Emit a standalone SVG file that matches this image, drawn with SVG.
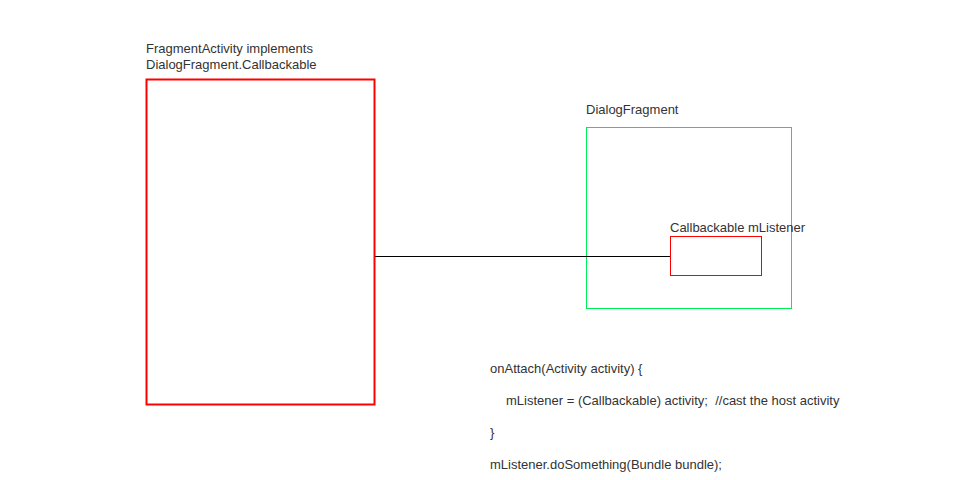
<svg xmlns="http://www.w3.org/2000/svg" width="957" height="480" viewBox="0 0 957 480">
<style>
text{font-family:"Liberation Sans",Arial,sans-serif;font-size:13px;fill:#333;white-space:pre}
.red{fill:none;stroke:#ff0000}
</style>
<rect width="957" height="480" fill="#fff"/>
<g id="activity">
<rect class="red" x="146.5" y="79.5" width="228" height="325" stroke-width="2"/>
<text x="146" y="53">FragmentActivity implements</text>
<text x="146" y="69">DialogFragment.Callbackable</text>
</g>
<g id="dialog">
<rect x="586.5" y="127.5" width="205" height="181" fill="none" stroke="#00ee55"/>
<text x="586" y="114">DialogFragment</text>
</g>
<g id="listener">
<rect class="red" x="670.5" y="236.5" width="91" height="39"/>
<text x="670" y="232">Callbackable mListener</text>
</g>
<g id="connectors">
<line x1="375" y1="256.5" x2="670" y2="256.5" stroke="#000"/>
</g>
<g id="code">
<text x="490" y="373">onAttach(Activity activity) {</text>
<text x="506" y="405" xml:space="preserve">mListener = (Callbackable) activity;  //cast the host activity</text>
<text x="490" y="437">}</text>
<text x="490" y="469">mListener.doSomething(Bundle bundle);</text>
</g>
</svg>
